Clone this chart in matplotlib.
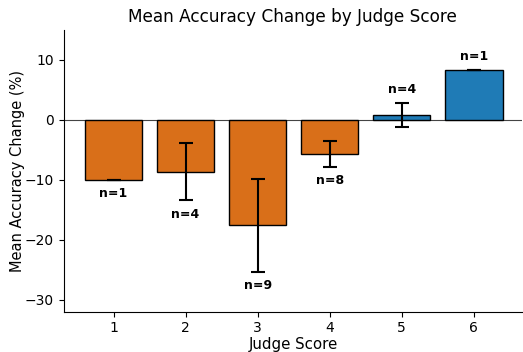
import numpy as np
import matplotlib.pyplot as plt

# data
scores = [1, 2, 3, 4, 5, 6]
means = [-10.0, -8.7, -17.6, -5.7, 0.8, 8.3]
errs = [0.0, 4.75, 7.75, 2.1, 2.0, 0.0]
counts = [1, 4, 9, 8, 4, 1]

orange = '#d96f19'
blue = '#1f7bb6'
colors = [blue if m > 0 else orange for m in means]

fig, ax = plt.subplots(figsize=(5.23, 3.52), dpi=100)

x = np.arange(len(scores))
ax.bar(x, means, width=0.8, color=colors, edgecolor='black', linewidth=1.0,
       yerr=errs, capsize=5, error_kw={'elinewidth': 1.5, 'capthick': 1.5, 'ecolor': 'black'})

ax.axhline(0, color='#444444', linewidth=0.8, zorder=0)

# n labels
for xi, m, e, n in zip(x, means, errs, counts):
    if m < 0:
        ax.text(xi, m - e - 1.2, f'n={n}', ha='center', va='top', fontsize=9, fontweight='bold')
    else:
        ax.text(xi, m + e + 1.2, f'n={n}', ha='center', va='bottom', fontsize=9, fontweight='bold')

ax.set_xticks(x)
ax.set_xticklabels([str(s) for s in scores])
ax.tick_params(axis='x', pad=3)
ax.set_ylim(-32, 15)
ax.set_xlim(-0.69, 5.67)
ax.set_yticks([-30, -20, -10, 0, 10])
ax.set_xlabel('Judge Score', fontsize=10.8, labelpad=2)
ax.set_ylabel('Mean Accuracy Change (%)', fontsize=10.5, labelpad=0)
ax.set_title('Mean Accuracy Change by Judge Score', fontsize=12.2)
ax.spines['top'].set_visible(False)
ax.spines['right'].set_visible(False)

plt.subplots_adjust(left=0.122, right=0.998, top=0.915, bottom=0.115)
fig.savefig('out.png', dpi=100)
